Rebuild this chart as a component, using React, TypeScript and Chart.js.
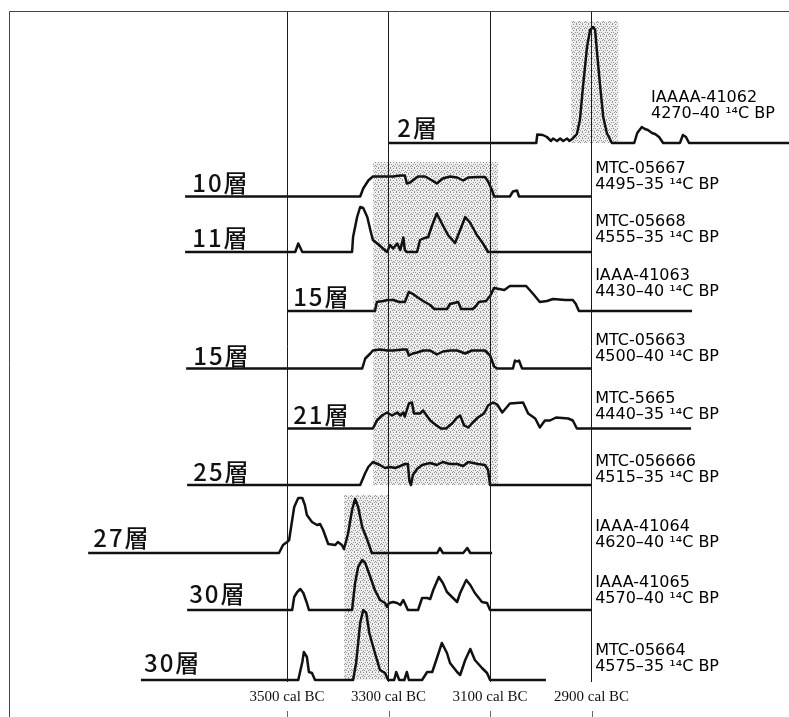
import React, { useEffect, useRef } from "react";
import { Chart, registerables } from "chart.js";

Chart.register(...registerables);

// ---- categories / labels ----
const LAYERS = ["2層", "10層", "11層", "15層", "15層", "21層", "25層", "27層", "30層", "30層"];
const LAB_CODES = [
  "IAAAA-41062", "MTC-05667", "MTC-05668", "IAAA-41063", "MTC-05663",
  "MTC-5665", "MTC-056666", "IAAA-41064", "IAAA-41065", "MTC-05664",
];
const BP_DATES = [
  "4270–40 ¹⁴C BP", "4495–35 ¹⁴C BP", "4555–35 ¹⁴C BP", "4430–40 ¹⁴C BP", "4500–40 ¹⁴C BP",
  "4440–35 ¹⁴C BP", "4515–35 ¹⁴C BP", "4620–40 ¹⁴C BP", "4570–40 ¹⁴C BP", "4575–35 ¹⁴C BP",
];
const TICK_YEARS = [3500, 3300, 3100, 2900];
const TICK_SUFFIX = " cal BC";

// ---- probability curves: [cal BC year, relative probability height] ----
const P2: [number, number][] = [[3301,0],[3009,0],[3007,8.5],[2996,8],[2988,6],[2980,2],[2976,4.5],[2968,2],[2962,4.5],[2956,2],[2948,4.5],[2944,2],[2937,4.5],[2929,9],[2923,23],[2917,56],[2909,96],[2903,113],[2897,116],[2893,113],[2889,89],[2883,56],[2877,26],[2870,10],[2860,0],[2816,0],[2810,10],[2801,16],[2795,14],[2789,13],[2781,10],[2775,9],[2767,6],[2759,0],[2726,0],[2720,8],[2714,6],[2708,0],[2511,0]];
const P10: [number, number][] = [[3701,0],[3356,0],[3350,8],[3340,16],[3331,20],[3311,20],[3291,20],[3277,21],[3268,21],[3264,13],[3258,14],[3242,20],[3228,20],[3214,16],[3205,13],[3193,18],[3179,20],[3165,19],[3153,16],[3143,19],[3126,19.5],[3110,19.5],[3104,15],[3096,6],[3092,0],[3061,0],[3055,5],[3047,6],[3043,0],[2901,0]];
const P11: [number, number][] = [[3701,0],[3484,0],[3478,8.5],[3470,0],[3372,0],[3370,15],[3362,35],[3356,45],[3350,44],[3342,35],[3336,22],[3331,12],[3321,8],[3311,3.5],[3303,0],[3297,7],[3291,3.5],[3283,8.5],[3277,2],[3271,14.5],[3268,2],[3264,0],[3244,0],[3238,12],[3232,13.5],[3222,15],[3214,27],[3205,38.5],[3195,28.5],[3183,17],[3169,9],[3159,22],[3149,35],[3139,29],[3126,17],[3114,8.5],[3104,0],[2901,0]];
const P15A: [number, number][] = [[3500,0],[3327,0],[3323,9],[3311,10],[3301,11],[3291,11],[3279,9],[3268,9],[3260,19],[3252,17],[3244,14],[3232,10],[3218,6],[3210,2],[3185,2],[3179,7],[3163,9],[3157,2],[3134,2],[3128,5],[3122,9],[3108,10],[3100,15],[3092,23],[3082,22],[3072,21],[3061,25],[3029,25],[3015,17],[3002,9],[2988,10],[2976,12],[2952,11],[2937,11],[2931,7],[2925,0],[2702,0]];
const P15B: [number, number][] = [[3699,0],[3352,0],[3346,10],[3336,15],[3331,18],[3317,19],[3303,18],[3291,18],[3271,19],[3264,19],[3260,13],[3252,15],[3244,16],[3232,18],[3218,18],[3205,14],[3193,17],[3179,18],[3165,18],[3149,15],[3136,18],[3110,18],[3100,13],[3092,2],[3086,0],[3055,0],[3051,8],[3047,7],[3043,8],[3037,0],[2901,0]];
const P21: [number, number][] = [[3500,0],[3331,0],[3323,8],[3313,13],[3303,16],[3293,13],[3283,16],[3277,13],[3271,16],[3268,12],[3260,25],[3254,26],[3250,15],[3238,15],[3232,18],[3218,8],[3208,4],[3197,0],[3187,0],[3175,5],[3165,11],[3159,13],[3151,3],[3143,1],[3136,5],[3124,11],[3112,15],[3104,23],[3094,26],[3086,24],[3076,16],[3061,25],[3035,26],[3025,15],[3011,10],[3002,1],[2992,8],[2982,8],[2970,11],[2946,10],[2937,8],[2929,0],[2704,0]];
const P25: [number, number][] = [[3697,0],[3356,0],[3346,12],[3340,18],[3331,23],[3317,20],[3307,17],[3297,18],[3287,17],[3277,19],[3268,21],[3262,21],[3259,4],[3256,0],[3252,10],[3244,16],[3234,20],[3218,22],[3205,20],[3193,23],[3179,21],[3165,21],[3153,19],[3143,23],[3124,21],[3110,20],[3104,15],[3100,0],[2901,0]];
const P27: [number, number][] = [[3892,0],[3516,0],[3508,8],[3500,11],[3496,13],[3490,33],[3486,46],[3478,55],[3470,55],[3465,48],[3461,38],[3451,31],[3441,28],[3435,29],[3429,23],[3419,9],[3405,8],[3400,11],[3392,8],[3388,4],[3380,19],[3372,43],[3366,54],[3360,46],[3352,26],[3342,13],[3333,0],[3204,0],[3199,5],[3193,0],[3153,0],[3145,5],[3139,0],[3096,0]];
const P30A: [number, number][] = [[3697,0],[3490,0],[3486,13],[3480,18],[3474,21],[3468,17],[3461,7],[3457,0],[3372,0],[3366,27],[3360,43],[3352,50],[3346,47],[3336,33],[3327,20],[3317,10],[3307,7],[3303,3],[3299,7],[3291,8],[3283,7],[3277,5],[3271,10],[3262,0],[3242,0],[3234,12],[3224,12],[3218,11],[3212,20],[3201,33],[3193,27],[3185,18],[3173,12],[3165,8],[3159,17],[3147,30],[3139,25],[3130,17],[3116,8],[3106,7],[3100,0],[2901,0]];
const P30B: [number, number][] = [[3788,0],[3478,0],[3470,18],[3467,28],[3461,23],[3457,8],[3451,7],[3445,0],[3370,0],[3364,17],[3356,57],[3350,70],[3344,67],[3338,47],[3327,27],[3317,10],[3307,7],[3301,0],[3289,0],[3285,8],[3279,0],[3269,0],[3264,8],[3260,0],[3234,0],[3224,8],[3214,8],[3208,17],[3195,37],[3185,27],[3179,17],[3165,8],[3159,5],[3149,20],[3139,31],[3130,20],[3116,12],[3106,7],[3100,0],[2990,0]];

// ---- shaded ranges (cal BC from/to, vertical extent in axis units) ----
const SHADE_FROM = [2941, 3331, 3388];
const SHADE_TO = [2847, 3084, 3301];
const SHADE_TOP = [661, 520, 187];
const SHADE_BOTTOM = [539, 197, 2];

// ---- layout (axis units) ----
const ROW_BASE = [539, 485.5, 430, 371, 313.5, 253.5, 197, 129, 72, 2];
const LEFT_LABEL_AT: [number, number][] = [[3283,545],[3687,490],[3687,435],[3488,376],[3685,317],[3488,258],[3685,201],[3882,135],[3693,79],[3782,10]];
const RIGHT_LABEL_AT: [number, number][] = [[2783,580],[2893,509],[2893,456],[2893,402],[2893,337],[2893,279],[2893,216],[2893,151],[2893,95],[2893,27]];
const RIGHT_LINE_GAP = 15.5;

const SERIES = [P2, P10, P11, P15A, P15B, P21, P25, P27, P30A, P30B];

const STIPPLE_DOTS: [number, number][] = [[0,0],[3,0],[5,2],[1,2],[4,4],[2,4],[0,5],[3,3]];

function makeStipple(): CanvasPattern | string {
  const c = document.createElement("canvas");
  c.width = 6;
  c.height = 6;
  const g = c.getContext("2d");
  if (!g) return "#d6d6d6";
  g.fillStyle = "#eeeeee";
  g.fillRect(0, 0, 6, 6);
  g.fillStyle = "#959595";
  STIPPLE_DOTS.forEach(([x, y]) => g.fillRect(x, y, 1, 1));
  const p = g.createPattern(c, "repeat");
  return p || "#d6d6d6";
}

const annotate = {
  id: "annotate",
  beforeDraw(chart: any) {
    const { ctx } = chart;
    ctx.save();
    ctx.fillStyle = "#ffffff";
    ctx.fillRect(0, 0, chart.width, chart.height);
    ctx.restore();
  },
  afterDraw(chart: any) {
    const { ctx, chartArea, scales } = chart;
    const x = scales.x;
    const y = scales.y;
    ctx.save();
    // frame
    ctx.strokeStyle = "#444";
    ctx.lineWidth = 1;
    ctx.beginPath();
    ctx.moveTo(chartArea.left + 0.5, chart.height);
    ctx.lineTo(chartArea.left + 0.5, chartArea.top + 0.5);
    ctx.lineTo(chart.width, chartArea.top + 0.5);
    ctx.stroke();
    // small tick marks under the labels
    ctx.strokeStyle = "#666";
    TICK_YEARS.forEach((v) => {
      const px = Math.round(x.getPixelForValue(v)) + 0.5;
      ctx.beginPath();
      ctx.moveTo(px, chart.height - 6);
      ctx.lineTo(px, chart.height);
      ctx.stroke();
    });
    // layer labels
    ctx.fillStyle = "#111";
    ctx.textAlign = "left";
    ctx.textBaseline = "alphabetic";
    ctx.font = '500 24px "Noto Sans CJK JP"';
    (ctx as any).letterSpacing = "2px";
    LAYERS.forEach((t, i) => {
      const [yr, v] = LEFT_LABEL_AT[i];
      ctx.fillText(t, x.getPixelForValue(yr), y.getPixelForValue(v));
    });
    (ctx as any).letterSpacing = "0px";
    // sample codes and dates
    ctx.fillStyle = "#000";
    ctx.font = '16px "DejaVu Sans"';
    LAB_CODES.forEach((t, i) => {
      const [yr, v] = RIGHT_LABEL_AT[i];
      const px = x.getPixelForValue(yr);
      ctx.fillText(t, px, y.getPixelForValue(v));
      ctx.fillText(BP_DATES[i], px, y.getPixelForValue(v - RIGHT_LINE_GAP));
    });
    ctx.restore();
  },
};

export default function App() {
  const ref = useRef<HTMLCanvasElement>(null);
  useEffect(() => {
    const canvas = ref.current;
    if (!canvas) return;
    const stipple = makeStipple();
    const curveSets = SERIES.map((pts, i) => ({
      type: "line" as const,
      label: LAYERS[i],
      data: pts.map(([yr, h]) => ({ x: yr, y: ROW_BASE[i] + h })),
      borderColor: "#111",
      borderWidth: 2.5,
      borderJoinStyle: "round" as const,
      pointRadius: 0,
      tension: 0,
      fill: false,
      order: 0,
    }));
    const shadeSets = SHADE_FROM.map((f, j) => ({
      type: "line" as const,
      label: "range" + j,
      data: [
        { x: f, y: SHADE_TOP[j] },
        { x: SHADE_TO[j], y: SHADE_TOP[j] },
      ],
      borderColor: "rgba(0,0,0,0)",
      borderWidth: 0,
      pointRadius: 0,
      fill: { value: SHADE_BOTTOM[j] },
      backgroundColor: stipple as any,
      order: 5,
    }));
    const chart = new Chart(canvas, {
      type: "line",
      data: { datasets: [...curveSets, ...shadeSets] as any },
      options: {
        responsive: false,
        animation: false,
        devicePixelRatio: 1,
        events: [],
        layout: { padding: { left: 9, right: 0, top: 11, bottom: 0 } },
        plugins: { legend: { display: false }, tooltip: { enabled: false } },
        scales: {
          x: {
            type: "linear",
            reverse: true,
            bounds: "data",
            min: 2511,
            max: 4048,
            position: "bottom",
            afterBuildTicks: (ax: any) => {
              ax.ticks = TICK_YEARS.map((v) => ({ value: v }));
            },
            afterFit: (ax: any) => {
              ax.height = 35;
            },
            grid: { color: "#1a1a1a", lineWidth: 1, drawTicks: false, z: 1 } as any,
            border: { display: false },
            ticks: {
              callback: (v: any) => `${v}${TICK_SUFFIX}`,
              font: { family: '"Liberation Serif", serif', size: 15 },
              color: "#111",
              padding: 6,
              maxRotation: 0,
              autoSkip: false,
            },
          },
          y: { type: "linear", min: 0, max: 671, display: false },
        },
      } as any,
      plugins: [annotate],
    });
    return () => chart.destroy();
  }, []);
  return (
    <div style={{ position: "fixed", left: 0, top: 0, width: 789, height: 717, background: "#fff" }}>
      <canvas ref={ref} width={789} height={717} style={{ display: "block", width: 789, height: 717 }} />
    </div>
  );
}
